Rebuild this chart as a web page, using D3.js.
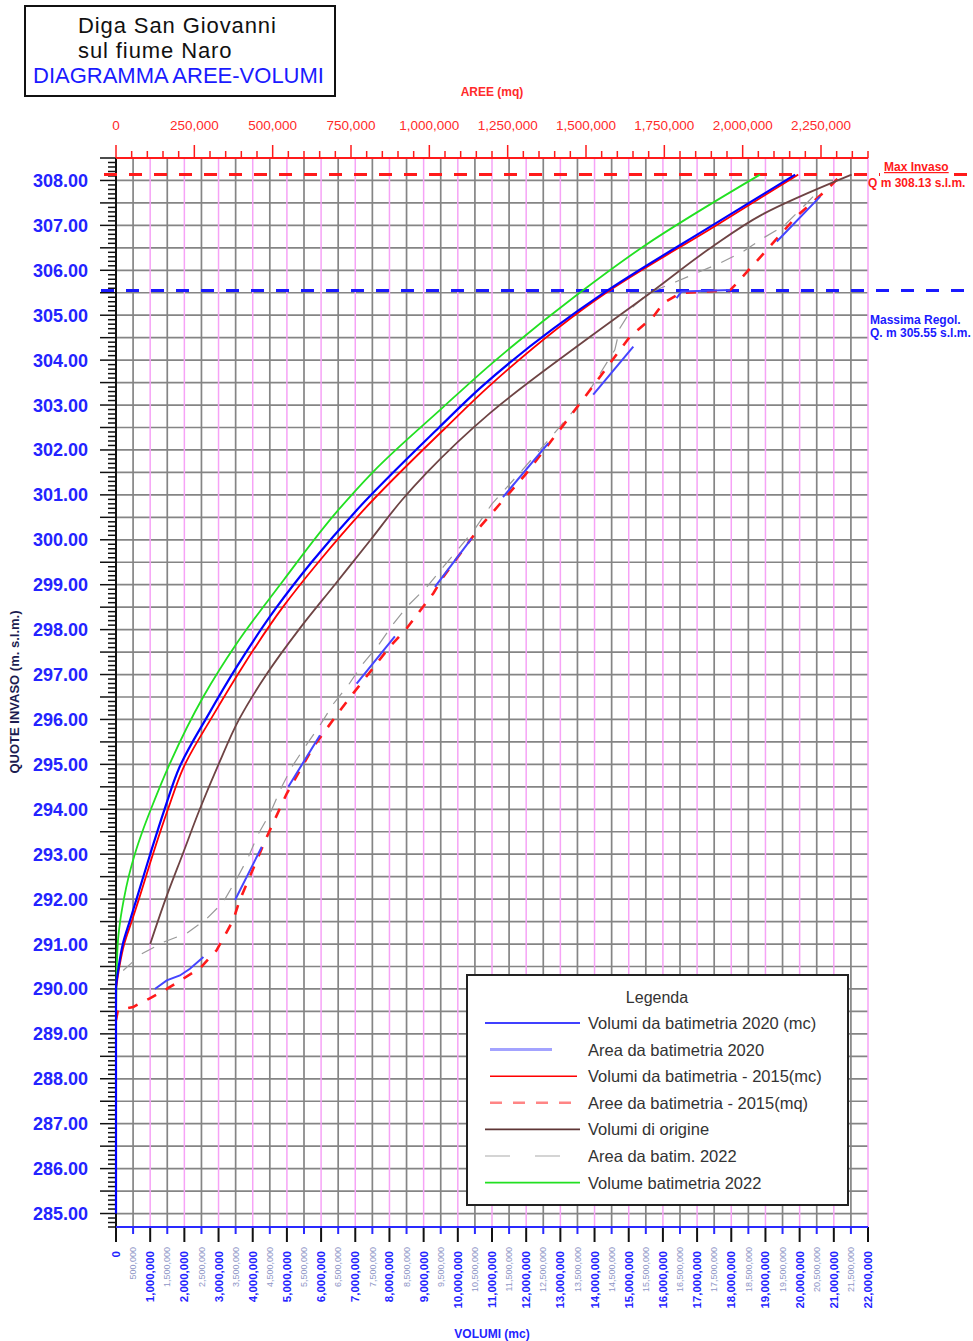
<!DOCTYPE html>
<html>
<head>
<meta charset="utf-8">
<script src="https://cdn.jsdelivr.net/npm/d3@7"></script>
<style>
  body { margin: 0; background: #fff; }
  svg { display: block; font-family: "Liberation Sans", Arial, sans-serif; }
</style>
</head>
<body>
<svg id="chart"></svg>
<script>
// quota (m s.l.m.) - volume (mc) / area (mq)
const volumi2020 = [[285,0],[289.5,0],[290,0],[290.5,0.08e6],[291,0.2e6],[291.53,0.41e6],[292,0.6e6],
  [293,1.0e6],[294,1.42e6],[294.94,1.86e6],[296.13,2.72e6],[297.17,3.53e6],[298.5,4.7e6],[299.5,5.72e6],
  [300.66,7.04e6],[302.5,9.45e6],[303.41,10.7e6],[305.49,14.26e6],[307.01,17.47e6],[308.13,19.87e6]];

const volumi2015 = [[290,0],[290.5,0.1e6],[291,0.24e6],[291.53,0.47e6],[292,0.67e6],[293,1.08e6],
  [294,1.52e6],[294.94,1.98e6],[296.13,2.87e6],[297.17,3.7e6],[298.5,4.88e6],[299.5,5.92e6],
  [300.66,7.24e6],[302.5,9.65e6],[303.41,10.9e6],[305.49,14.32e6],[307.01,17.58e6],[308.13,19.96e6]];

const volumiOrigine = [[291,1.0e6],[292,1.45e6],[293,1.95e6],[294,2.45e6],[295,3.0e6],[296,3.6e6],
  [297,4.4e6],[298,5.35e6],[299,6.4e6],[300,7.45e6],[300.88,8.36e6],[301.5,9.1e6],[302.82,10.94e6],
  [304.52,13.87e6],[305.49,15.62e6],[306.5,17.4e6],[307.24,18.9e6],[308.13,21.52e6]];

const volumi2022 = [[289.37,0],[290,0.01e6],[291,0.05e6],[291.5,0.12e6],[292,0.23e6],[292.5,0.37e6],
  [293,0.55e6],[293.5,0.77e6],[294,1.02e6],[294.94,1.53e6],[296.5,2.55e6],[297.69,3.53e6],
  [299.1,4.9e6],[300.66,6.5e6],[301.52,7.53e6],[302.96,9.58e6],[303.89,10.94e6],[305.45,13.48e6],
  [306.53,15.43e6],[308.13,18.84e6]];

const aree2015 = [[289.3,0],[289.53,6e3],[289.6,55e3],[289.79,108e3],[290,162e3],[290.46,268e3],
  [290.86,321e3],[291.53,374e3],[291.98,395e3],[293.38,481e3],[294.35,545e3],[295.39,630e3],
  [296.2,715e3],[296.58,757e3],[297.62,874e3],[298.03,928e3],[298.81,1013e3],[299.18,1045e3],
  [300.29,1162e3],[301.44,1305e3],[302.11,1379e3],[303.13,1491e3],[304.52,1640e3],[304.97,1715e3],
  [305.27,1747e3],[305.49,1800e3],[305.56,1960e3],[305.71,1981e3],[306.53,2087e3],[307.2,2172e3],
  [307.79,2268e3],[308.13,2315e3]];

// tratti spezzati (null = interruzione)
const aree2020 = [[290,124e3],[290.19,162e3],[290.3,204e3],[290.45,236e3],[290.71,279e3],null,
  [291.98,380e3],[293.16,465e3],null,
  [294.5,550e3],[295.65,651e3],null,
  [296.8,768e3],[297.85,890e3],null,
  [298.95,1018e3],[300.03,1135e3],null,
  [300.95,1235e3],[302.15,1380e3],null,
  [303.23,1523e3],[304.3,1651e3],null,
  [305.38,1789e3],[305.53,1805e3],[305.56,1960e3],null,
  [306.64,2109e3],[307.64,2247e3]];

const aree2022 = [[290.41,23e3],[290.78,82e3],[291.04,151e3],[291.24,226e3],[291.56,289e3],[291.93,342e3],
  [292.45,385e3],[292.93,422e3],[293.45,454e3],[293.9,491e3],[294.5,529e3],[294.94,561e3],
  [295.39,603e3],[295.87,651e3],[296.35,694e3],[296.76,741e3],[297.25,789e3],[297.65,837e3],
  [298.13,885e3],[298.54,933e3],[298.95,992e3],[299.4,1045e3],[299.84,1098e3],[300.25,1146e3],
  [300.8,1200e3],[301.5,1290e3],[302.3,1390e3],[303.2,1500e3],[304.23,1592e3],[304.71,1608e3],
  [305.19,1651e3],[305.49,1699e3],[305.75,1789e3],[305.94,1853e3],[306.16,1928e3],[306.42,2002e3],
  [306.72,2066e3],[306.98,2130e3],[307.42,2194e3],[307.8,2247e3]];

const maxInvaso = 308.13;
const massimaRegolazione = 305.55;

const titleLines = ["Diga San Giovanni", "sul fiume Naro", "DIAGRAMMA AREE-VOLUMI"];

const legendItems = [
  {label: "Volumi da batimetria 2020 (mc)", color: "#0000ff", width: 1.6, dash: null, x1: 485, x2: 580},
  {label: "Area da batimetria 2020", color: "#a3a3ff", width: 3, dash: null, x1: 490, x2: 552},
  {label: "Volumi  da batimetria - 2015(mc)", color: "#ff0000", width: 1.6, dash: null, x1: 490, x2: 577},
  {label: "Aree da batimetria - 2015(mq)", color: "#ff8585", width: 2.5, dash: "12,11", x1: 490, x2: 577},
  {label: "Volumi di origine", color: "#5e3535", width: 1.6, dash: null, x1: 485, x2: 580},
  {label: "Area da batim. 2022", color: "#aaaaaa", width: 1.2, dash: "25,25", x1: 485, x2: 561},
  {label: "Volume batimetria 2022", color: "#22e022", width: 1.6, dash: null, x1: 485, x2: 580}
];

const W = 973, H = 1341;
const svg = d3.select("#chart").attr("width", W).attr("height", H);

const y = d3.scaleLinear().domain([284.7, 308.5]).range([1227, 158]);
const xV = d3.scaleLinear().domain([0, 22e6]).range([116, 868]);
const xA = d3.scaleLinear().domain([0, 2.4e6]).range([116, 868]);

// griglia
const grid = svg.append("g");
grid.selectAll("line.h").data(d3.range(285, 308.01, 0.5)).join("line")
  .attr("x1", 116).attr("x2", 868)
  .attr("y1", d => y(d)).attr("y2", d => y(d))
  .style("stroke", "#858585").style("stroke-width", 1.7);
grid.selectAll("line.vg").data(d3.range(0.5e6, 22e6, 1e6)).join("line")
  .attr("x1", d => xV(d)).attr("x2", d => xV(d))
  .attr("y1", 158).attr("y2", 1227)
  .style("stroke", "#858585").style("stroke-width", 1.7);
grid.selectAll("line.vp").data(d3.range(1e6, 22e6 + 1, 1e6)).join("line")
  .attr("x1", d => xV(d)).attr("x2", d => xV(d))
  .attr("y1", 158).attr("y2", 1227)
  .style("stroke", "#f6a3f6").style("stroke-width", 1.5);

// asse sinistro (quote)
const axisLeft = svg.append("g");
axisLeft.append("line").attr("x1", 116).attr("x2", 116).attr("y1", 158).attr("y2", 1227)
  .style("stroke", "#111").style("stroke-width", 2);
axisLeft.selectAll("line.t").data(d3.range(0, 239).map(i => 284.7 + i * 0.1)).join("line")
  .attr("x1", d => Math.abs(d * 2 - Math.round(d * 2)) < 1e-6 ? 100 : 108).attr("x2", 116)
  .attr("y1", d => y(d)).attr("y2", d => y(d))
  .style("stroke", "#111").style("stroke-width", 1.5);
axisLeft.selectAll("text").data(d3.range(285, 308.01, 1)).join("text")
  .attr("x", 88).attr("y", d => y(d)).attr("dy", "0.36em")
  .attr("text-anchor", "end")
  .style("font-size", "18px").style("font-weight", "bold").style("fill", "#2323ff")
  .text(d => d.toFixed(2));
svg.append("text")
  .attr("transform", "translate(19,692) rotate(-90)")
  .attr("text-anchor", "middle")
  .style("font-size", "13px").style("font-weight", "bold").style("fill", "#1c1c50")
  .text("QUOTE INVASO (m. s.l.m.)");

// linee di riferimento
svg.append("line").attr("x1", 104).attr("x2", W)
  .attr("y1", y(maxInvaso)).attr("y2", y(maxInvaso))
  .style("stroke", "#ff1a1a").style("stroke-width", 3).style("stroke-dasharray", "13,12");
svg.append("line").attr("x1", 101).attr("x2", W)
  .attr("y1", y(massimaRegolazione)).attr("y2", y(massimaRegolazione))
  .style("stroke", "#1a1aff").style("stroke-width", 3).style("stroke-dasharray", "13,12");

// curve
const volLine = d3.line().x(d => xV(d[1])).y(d => y(d[0])).curve(d3.curveMonotoneY);
const areaLine = d3.line().defined(d => d !== null).x(d => xA(d[1])).y(d => y(d[0]));

const curves = svg.append("g").style("fill", "none");
curves.append("path").attr("d", areaLine(aree2022))
  .style("stroke", "#999").style("stroke-width", 1.2).style("stroke-dasharray", "14,11");
curves.append("path").attr("d", areaLine(aree2015))
  .style("stroke", "#ff1a1a").style("stroke-width", 2.6).style("stroke-dasharray", "10,11");
curves.append("path").attr("d", areaLine(aree2020))
  .style("stroke", "#4545ff").style("stroke-width", 2);
curves.append("path").attr("d", volLine(volumiOrigine))
  .style("stroke", "#6e4444").style("stroke-width", 1.8);
curves.append("path").attr("d", volLine(volumi2022))
  .style("stroke", "#22e022").style("stroke-width", 1.8);
curves.append("path").attr("d", volLine(volumi2015))
  .style("stroke", "#ff0000").style("stroke-width", 1.8);
curves.append("path").attr("d", volLine(volumi2020))
  .style("stroke", "#0000ff").style("stroke-width", 2.2);

// asse superiore (aree)
const axisTop = svg.append("g");
axisTop.append("line").attr("x1", 116).attr("x2", 868).attr("y1", 158).attr("y2", 158)
  .style("stroke", "#ff1a1a").style("stroke-width", 2);
axisTop.selectAll("line.t").data(d3.range(0, 2400001, 50000)).join("line")
  .attr("x1", d => xA(d)).attr("x2", d => xA(d))
  .attr("y1", 158).attr("y2", d => d % 250000 === 0 ? 145 : 151)
  .style("stroke", "#ff1a1a").style("stroke-width", 1.5);
axisTop.selectAll("text").data(d3.range(0, 2250001, 250000)).join("text")
  .attr("x", d => xA(d)).attr("y", 130)
  .attr("text-anchor", "middle")
  .style("font-size", "13.5px").style("fill", "#ff2a2a")
  .text(d => d3.format(",")(d));
svg.append("text").attr("x", 492).attr("y", 96).attr("text-anchor", "middle")
  .style("font-size", "12px").style("font-weight", "bold").style("fill", "#ff2a2a")
  .text("AREE (mq)");

// asse inferiore (volumi)
const axisBottom = svg.append("g");
const volTicks = d3.range(0, 22e6 + 1, 5e5);
axisBottom.selectAll("line.t").data(volTicks).join("line")
  .attr("x1", d => xV(d)).attr("x2", d => xV(d))
  .attr("y1", 1227).attr("y2", d => d % 1e6 === 0 ? 1242 : 1234)
  .style("stroke", d => d % 1e6 === 0 ? "#111" : "#2a2aff").style("stroke-width", 2);
axisBottom.append("line").attr("x1", 116).attr("x2", 868).attr("y1", 1227).attr("y2", 1227)
  .style("stroke", "#2a2aff").style("stroke-width", 2);
axisBottom.selectAll("text").data(volTicks).join("text")
  .attr("transform", d => `translate(${xV(d)},${d % 1e6 === 0 ? 1251 : 1247}) rotate(-90)`)
  .attr("dy", "0.35em")
  .attr("text-anchor", "end")
  .style("font-size", d => d % 1e6 === 0 ? "11.5px" : "9px")
  .style("font-weight", d => d % 1e6 === 0 ? "bold" : "normal")
  .style("fill", d => d % 1e6 === 0 ? "#2323ff" : "#8e95c6")
  .text(d => d3.format(",")(d));
svg.append("text").attr("x", 492).attr("y", 1338).attr("text-anchor", "middle")
  .style("font-size", "12px").style("font-weight", "bold").style("fill", "#2323ff")
  .text("VOLUMI (mc)");

// annotazioni a destra
svg.append("rect").attr("x", 880).attr("y", 160).attr("width", 74).attr("height", 30).style("fill", "#fff");
svg.append("text").attr("x", 884).attr("y", 171)
  .style("font-size", "12px").style("font-weight", "bold").style("fill", "#ff1a1a")
  .style("text-decoration", "underline")
  .text("Max Invaso");
svg.append("text").attr("x", 868).attr("y", 187)
  .style("font-size", "12px").style("font-weight", "bold").style("fill", "#ff1a1a")
  .text(`Q m ${maxInvaso.toFixed(2)} s.l.m.`);
svg.append("text").attr("x", 870).attr("y", 324)
  .style("font-size", "12px").style("font-weight", "bold").style("fill", "#1a1aff")
  .text("Massima Regol.");
svg.append("text").attr("x", 870).attr("y", 337)
  .style("font-size", "12px").style("font-weight", "bold").style("fill", "#1a1aff")
  .text(`Q. m ${massimaRegolazione.toFixed(2)} s.l.m.`);

// riquadro titolo
svg.append("rect").attr("x", 25).attr("y", 6).attr("width", 310).attr("height", 90)
  .style("fill", "#fff").style("stroke", "#111").style("stroke-width", 2);
svg.selectAll("text.title").data(titleLines).join("text")
  .attr("x", (d, i) => i === 2 ? 33 : 78)
  .attr("y", (d, i) => 33 + i * 25)
  .style("font-size", "22px")
  .style("letter-spacing", (d, i) => i === 2 ? "0px" : "0.9px")
  .style("fill", (d, i) => i === 2 ? "#1a1aff" : "#111")
  .text(d => d);

// legenda
const legend = svg.append("g");
legend.append("rect").attr("x", 467).attr("y", 975).attr("width", 381).attr("height", 230)
  .style("fill", "#fff").style("stroke", "#222").style("stroke-width", 2);
legend.append("text").attr("x", 657).attr("y", 1003).attr("text-anchor", "middle")
  .style("font-size", "16px").style("fill", "#333").text("Legenda");
const rows = legend.selectAll("g.row").data(legendItems).join("g")
  .attr("transform", (d, i) => `translate(0,${1023 + i * 26.6})`);
rows.append("line")
  .attr("x1", d => d.x1).attr("x2", d => d.x2).attr("y1", 0).attr("y2", 0)
  .style("stroke", d => d.color).style("stroke-width", d => d.width)
  .style("stroke-dasharray", d => d.dash);
rows.append("text").attr("x", 588).attr("dy", "0.36em")
  .style("font-size", "16.5px").style("fill", "#333")
  .text(d => d.label);
</script>
</body>
</html>
